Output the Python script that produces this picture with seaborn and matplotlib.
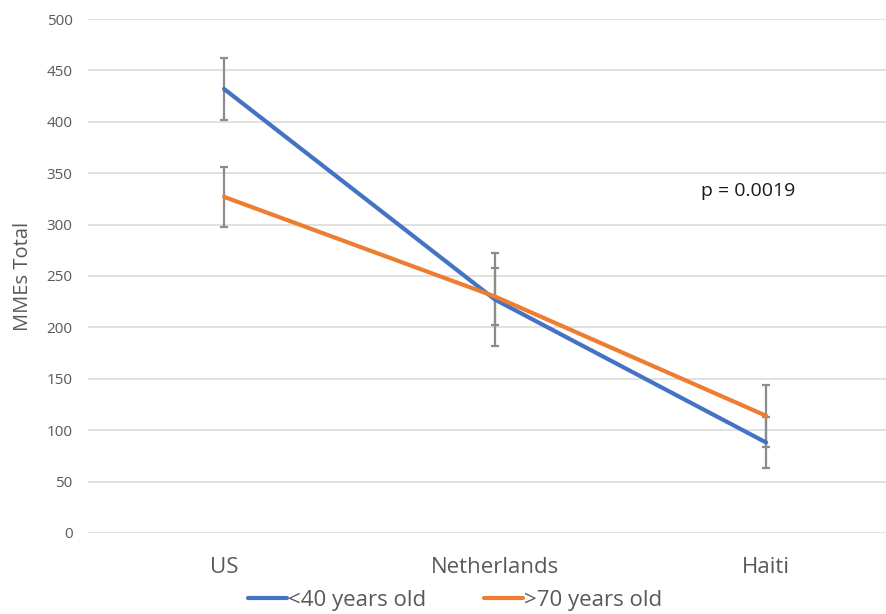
import matplotlib
matplotlib.use("Agg")
import matplotlib.pyplot as plt
import seaborn as sns
import pandas as pd

countries = ["US", "Netherlands", "Haiti"]
under_40 = [432, 227, 88]
under_40_err = [30, 45, 25]
over_70 = [327, 230, 114]
over_70_err = [29, 28, 30]
series_names = ["<40 years old", ">70 years old"]
colors = ["#4472C4", "#ED7D31"]
y_ticks = [0, 50, 100, 150, 200, 250, 300, 350, 400, 450, 500]

df = pd.DataFrame({
    "Country": countries * 2,
    "MMEs": under_40 + over_70,
    "err": under_40_err + over_70_err,
    "Group": [series_names[0]] * 3 + [series_names[1]] * 3,
})

sns.set_style("white")
plt.rcParams["font.family"] = ["Open Sans", "DejaVu Sans"]

fig = plt.figure(figsize=(8.87, 6.14), dpi=100)
ax = fig.add_axes([0.0992, 0.132, 0.9008, 0.837])

sns.lineplot(data=df, x="Country", y="MMEs", hue="Group", palette=colors,
             linewidth=3.0, ax=ax, legend=False, zorder=3, sort=False)

for name in series_names:
    sub = df[df["Group"] == name]
    ax.errorbar(sub["Country"], sub["MMEs"], yerr=sub["err"], fmt="none",
                ecolor="#8C8C8C", elinewidth=1.6, capsize=3.2, capthick=1.6,
                zorder=2)

ax.set_xlim(-0.502, 2.446)
ax.set_ylim(0, 500)
ax.set_yticks(y_ticks)
ax.yaxis.grid(True, color="#D9D9D9", linewidth=1.1)
ax.xaxis.grid(False)
for s in ax.spines.values():
    s.set_visible(False)
ax.tick_params(axis="y", length=0, pad=11, labelsize=11, labelcolor="#595959")
ax.tick_params(axis="x", length=0, pad=17, labelsize=16, labelcolor="#595959")
ax.set_xlabel("")
ax.set_ylabel("MMEs Total", fontsize=14.5, color="#595959", labelpad=10)

ax.text(1.76, 333, "p = 0.0019", fontsize=14, color="#1A1A1A", va="center")

handles = [plt.Line2D([], [], color=c, linewidth=3.0) for c in colors]
fig.legend(handles, series_names, loc="lower center", bbox_to_anchor=(0.513, -0.028),
           ncol=2, frameon=False, fontsize=16, labelcolor="#595959",
           handlelength=1.75, handletextpad=0.05, columnspacing=2.6)

fig.savefig("out.png", dpi=100)
